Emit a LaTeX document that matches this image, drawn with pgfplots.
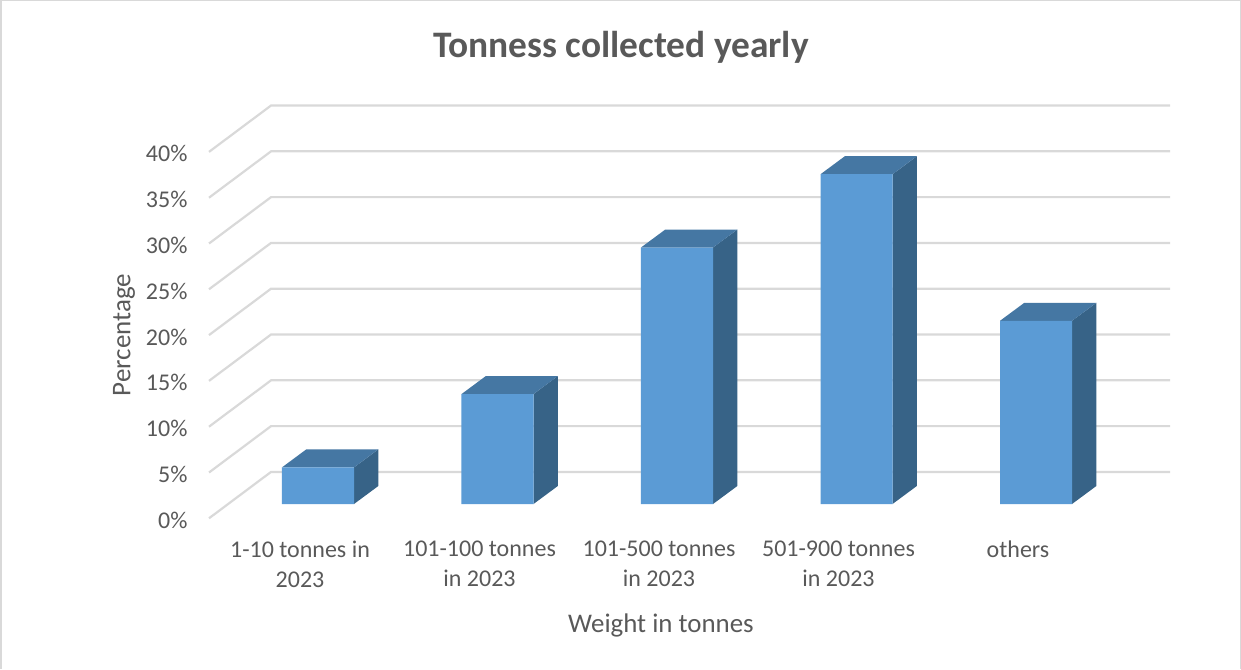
\documentclass[border=0pt]{standalone}
\usepackage{fontspec}
\setmainfont{Carlito}
\usepackage{pgfplots}
\pgfplotsset{compat=1.18}
\definecolor{txt}{HTML}{595959}
\definecolor{gridc}{HTML}{D9D9D9}
\definecolor{barfront}{HTML}{5B9BD5}
\definecolor{bartop}{HTML}{4577A3}
\definecolor{barside}{HTML}{376387}
\pgfplotstableread{
pos share
0 4
1 12
2 28
3 36
4 20
}\sharetable
\begin{document}
\begin{tikzpicture}[x=1pt,y=1pt]
\useasboundingbox (0,0) rectangle (1241,669);
% thin frame of the chart area
\fill[gridc] (0,0) rectangle (2,669);
\fill[gridc] (0,668) rectangle (1241,669);
\fill[gridc] (1240,0) rectangle (1241,669);
\begin{axis}[
  at={(209pt,150.7pt)}, anchor=south west,
  scale only axis, width=961pt, height=413.3pt,
  xmin=-0.6072, xmax=4.7465, ymin=-1.56, ymax=43.56,
  axis x line*=bottom, axis y line*=left,
  axis line style={draw=none},
  major tick length=0pt,
  clip=false,
  xtick={0,1,2,3,4},
  xticklabels={{1-10 tonnes in\\2023},{101-100 tonnes\\in 2023},{101-500 tonnes\\in 2023},{501-900 tonnes\\in 2023},{others}},
  x tick label style={align=center, xshift=-18pt, yshift=-19pt, anchor=north,
    font=\fontsize{24}{30}\selectfont, text=txt},
  % the value scale sits on the front edge of the floor, ahead of the bars
  ytick={-1.56,3.44,8.44,13.44,18.44,23.44,28.44,33.44,38.44},
  yticklabels={0\%,5\%,10\%,15\%,20\%,25\%,30\%,35\%,40\%},
  y tick label style={font=\fontsize{24}{30}\selectfont, text=txt, xshift=-18pt, yshift=-2pt},
  xlabel={Weight in tonnes},
  xlabel style={at={(axis description cs:0.4703,-0.2582)}, anchor=center,
    font=\fontsize{26.9}{30}\selectfont, text=txt},
  ylabel={Percentage},
  ylabel style={at={(axis description cs:-0.0885,0.4435)}, anchor=center,
    font=\fontsize{27}{30}\selectfont, text=txt},
  title={Tonness collected yearly},
  title style={at={(axis description cs:0.4287,1.1258)}, anchor=center,
    font=\fontsize{37.4}{40}\selectfont\bfseries, text=txt},
]
% gridlines: along the left wall, then across the back wall
\pgfplotsset{every axis plot/.append style={mark=none}}
\addplot[gridc, line width=2.2pt] coordinates {(-0.6072,-1.56) (-0.2618,3.5) (4.7465,3.5)};
\addplot[gridc, line width=2.2pt] coordinates {(-0.6072,3.44) (-0.2618,8.5) (4.7465,8.5)};
\addplot[gridc, line width=2.2pt] coordinates {(-0.6072,8.44) (-0.2618,13.5) (4.7465,13.5)};
\addplot[gridc, line width=2.2pt] coordinates {(-0.6072,13.44) (-0.2618,18.5) (4.7465,18.5)};
\addplot[gridc, line width=2.2pt] coordinates {(-0.6072,18.44) (-0.2618,23.5) (4.7465,23.5)};
\addplot[gridc, line width=2.2pt] coordinates {(-0.6072,23.44) (-0.2618,28.5) (4.7465,28.5)};
\addplot[gridc, line width=2.2pt] coordinates {(-0.6072,28.44) (-0.2618,33.5) (4.7465,33.5)};
\addplot[gridc, line width=2.2pt] coordinates {(-0.6072,33.44) (-0.2618,38.5) (4.7465,38.5)};
\addplot[gridc, line width=2.2pt] coordinates {(-0.6072,38.44) (-0.2618,43.5) (4.7465,43.5)};
% right-hand faces of the columns
\addplot[fill=barside, draw=none] coordinates {(0.2006,0) (0.2006,4) (0.336,5.965) (0.336,1.965)} -- cycle;
\addplot[fill=barside, draw=none] coordinates {(1.2006,0) (1.2006,12) (1.336,13.965) (1.336,1.965)} -- cycle;
\addplot[fill=barside, draw=none] coordinates {(2.2006,0) (2.2006,28) (2.336,29.965) (2.336,1.965)} -- cycle;
\addplot[fill=barside, draw=none] coordinates {(3.2006,0) (3.2006,36) (3.336,37.965) (3.336,1.965)} -- cycle;
\addplot[fill=barside, draw=none] coordinates {(4.2006,0) (4.2006,20) (4.336,21.965) (4.336,1.965)} -- cycle;
% top faces of the columns
\addplot[fill=bartop, draw=none] coordinates {(-0.2006,4) (0.2006,4) (0.336,5.965) (-0.0652,5.965)} -- cycle;
\addplot[fill=bartop, draw=none] coordinates {(0.7994,12) (1.2006,12) (1.336,13.965) (0.9348,13.965)} -- cycle;
\addplot[fill=bartop, draw=none] coordinates {(1.7994,28) (2.2006,28) (2.336,29.965) (1.9348,29.965)} -- cycle;
\addplot[fill=bartop, draw=none] coordinates {(2.7994,36) (3.2006,36) (3.336,37.965) (2.9348,37.965)} -- cycle;
\addplot[fill=bartop, draw=none] coordinates {(3.7994,20) (4.2006,20) (4.336,21.965) (3.9348,21.965)} -- cycle;
% front faces of the columns
\addplot[ybar, bar width=0.4012, bar shift=0pt, fill=barfront, draw=none] table[x=pos, y=share] {\sharetable};
\end{axis}
\end{tikzpicture}
\end{document}
